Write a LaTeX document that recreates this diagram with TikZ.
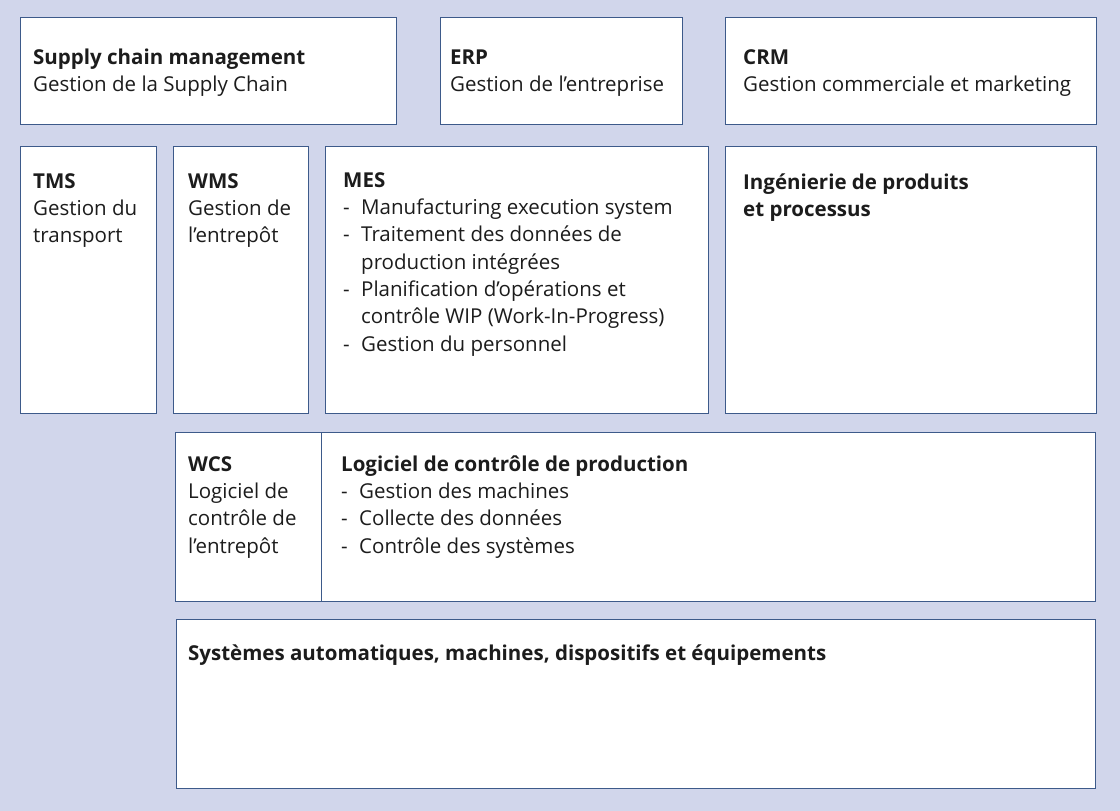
\documentclass[tikz,border=0pt]{standalone}
\usepackage{fontspec}
\setmainfont{Open Sans}
\definecolor{bgc}{HTML}{D1D6EB}
\definecolor{bdc}{HTML}{3D5A8A}
\definecolor{txc}{HTML}{1C1C1C}
\newcommand{\dl}{\makebox[18pt][l]{-}}
\newcommand{\ind}{\hspace*{18pt}}
\newcommand{\fst}{\rule{0pt}{20pt}}
\tikzset{
  box/.style={draw=bdc, line width=1.1pt, fill=white, inner sep=0pt, anchor=north west},
  txt/.style={anchor=north west, inner sep=0pt, align=left, text=txc,
    font=\fontsize{20.5}{27.3}\selectfont},
}
\begin{document}
\begin{tikzpicture}[x=1pt,y=-1pt]
\fill[bgc] (0,0) rectangle (1120,811);
\useasboundingbox (0,0) rectangle (1120,811);
% boxes
\node[box, minimum width=376pt, minimum height=107pt] (scm) at (20,17) {};
\node[box, minimum width=242pt, minimum height=107pt] (erp) at (440,17) {};
\node[box, minimum width=371pt, minimum height=107pt] (crm) at (725,17) {};
\node[box, minimum width=136pt, minimum height=267pt] (tms) at (20,146) {};
\node[box, minimum width=135pt, minimum height=267pt] (wms) at (173,146) {};
\node[box, minimum width=383pt, minimum height=267pt] (mes) at (325,146) {};
\node[box, minimum width=371pt, minimum height=267pt] (ing) at (725,146) {};
\node[box, minimum width=146pt, minimum height=169pt] (wcs) at (175,432) {};
\node[box, minimum width=774pt, minimum height=169pt] (lcp) at (321,432) {};
\node[box, minimum width=919pt, minimum height=169pt] (sys) at (176,619) {};
% texts
\node[txt] (tscm) at (33,44) {\fst\textbf{Supply chain management}\\Gestion de la Supply Chain};
\node[txt] (terp) at (450,44) {\fst\textbf{ERP}\\Gestion de l’entreprise};
\node[txt] (tcrm) at (743,44) {\fst\textbf{CRM}\\Gestion commerciale et marketing};
\node[txt] (ttms) at (33,168) {\fst\textbf{TMS}\\Gestion du\\transport};
\node[txt] (twms) at (188,168) {\fst\textbf{WMS}\\Gestion de\\l’entrepôt};
\node[txt] (tmes) at (343,167) {\fst\textbf{MES}\\
\dl Manufacturing execution system\\
\dl Traitement des données de\\
\ind production intégrées\\
\dl Planification d’opérations et\\
\ind contrôle WIP (Work-In-Progress)\\
\dl Gestion du personnel};
\node[txt] (ting) at (743,169) {\fst\textbf{Ingénierie de produits}\\\textbf{et processus}};
\node[txt] (twcs) at (188,451) {\fst\textbf{WCS}\\Logiciel de\\contrôle de\\l’entrepôt};
\node[txt] (tlcp) at (341,451) {\fst\textbf{Logiciel de contrôle de production}\\
\dl Gestion des machines\\
\dl Collecte des données\\
\dl Contrôle des systèmes};
\node[txt] (tsys) at (188,640) {\fst\textbf{Systèmes automatiques, machines, dispositifs et équipements}};
\end{tikzpicture}
\end{document}
